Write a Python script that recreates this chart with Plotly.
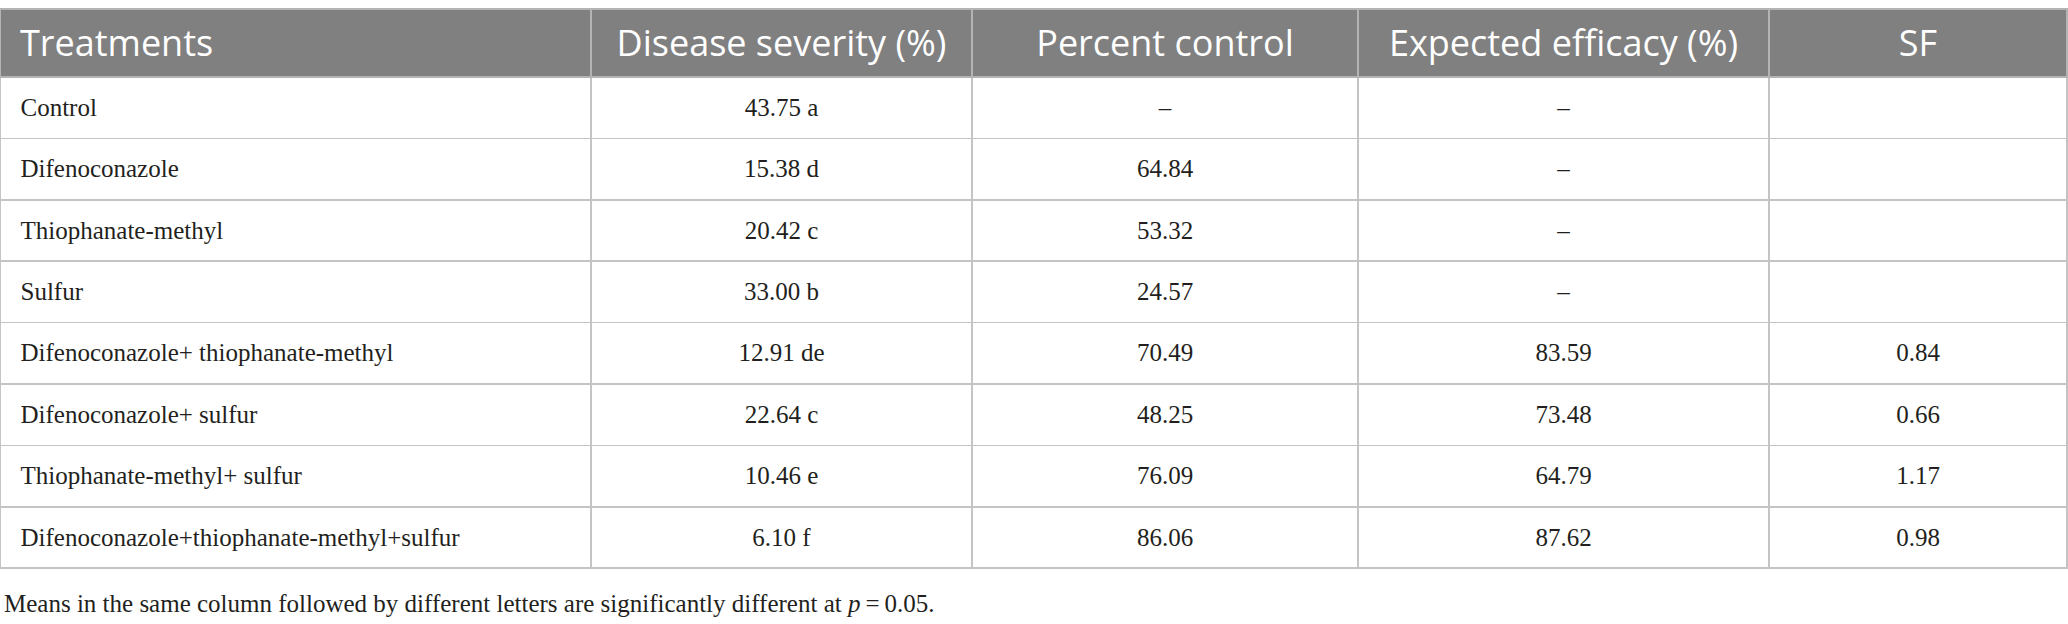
import plotly.graph_objects as go

# 表头与数据
headers = ["Treatments", "Disease severity (%)", "Percent control",
           "Expected efficacy (%)", "SF"]

treatments = [
    "Control",
    "Difenoconazole",
    "Thiophanate-methyl",
    "Sulfur",
    "Difenoconazole+ thiophanate-methyl",
    "Difenoconazole+ sulfur",
    "Thiophanate-methyl+ sulfur",
    "Difenoconazole+thiophanate-methyl+sulfur",
]
disease_severity = ["43.75 a", "15.38 d", "20.42 c", "33.00 b",
                    "12.91 de", "22.64 c", "10.46 e", "6.10 f"]
percent_control = ["–", "64.84", "53.32", "24.57",
                   "70.49", "48.25", "76.09", "86.06"]
expected_efficacy = ["–", "–", "–", "–",
                     "83.59", "73.48", "64.79", "87.62"]
sf = ["", "", "", "", "0.84", "0.66", "1.17", "0.98"]

footnote = ("Means in the same column followed by different letters are "
            "significantly different at <i>p</i>\u2009=\u20090.05.")

W, H = 2068, 624
top_px = 9          # 表格上边缘
text_shift = 12     # plotly 表格文字靠上，单独一层下移以垂直居中
col_widths = [591, 381, 386, 411, 298]
header_h, row_h = 68, 61.4
aligns = ["left", "center", "center", "center", "center"]
n_rows = len(treatments)
empty = [[""] * n_rows for _ in headers]

# 底层：网格与填充
grid = go.Table(
    columnwidth=col_widths,
    domain=dict(x=[0, 1], y=[0, 1 - top_px / H]),
    header=dict(values=[""] * len(headers), fill_color="#808080",
                line=dict(color="#b4b4b4", width=1.5), height=header_h),
    cells=dict(values=empty, fill_color="white",
               line=dict(color="#c4c4c4", width=1.5), height=row_h),
    hoverinfo="skip",
)

# 上层：文字（透明背景）
texts = go.Table(
    columnwidth=col_widths,
    domain=dict(x=[0, 1], y=[0, 1 - (top_px + text_shift) / H]),
    header=dict(
        values=["\u2004" + headers[0]] + headers[1:],
        fill_color="rgba(0,0,0,0)",
        line=dict(color="rgba(0,0,0,0)", width=0),
        align=aligns,
        font=dict(family="Open Sans", size=36, color="white"),
        height=header_h,
    ),
    cells=dict(
        values=[["\u2002" + t for t in treatments], disease_severity,
                percent_control, expected_efficacy, sf],
        fill_color="rgba(0,0,0,0)",
        line=dict(color="rgba(0,0,0,0)", width=0),
        align=aligns,
        font=dict(family="Liberation Serif", size=25, color="#231f20"),
        height=row_h,
    ),
)

fig = go.Figure([grid, texts])

fig.add_annotation(
    text=footnote, xref="paper", yref="paper",
    x=0.001, y=1 - 603 / H, xanchor="left", yanchor="middle",
    showarrow=False,
    font=dict(family="Liberation Serif", size=25, color="#231f20"),
)

fig.update_layout(
    width=W, height=H,
    margin=dict(l=0, r=1, t=0, b=0),
    paper_bgcolor="white",
)

# 去掉页面默认 8px 边距，隐藏工具栏
fig.write_html("out.html", config={"displayModeBar": False},
               post_script="document.body.style.margin='0';")
